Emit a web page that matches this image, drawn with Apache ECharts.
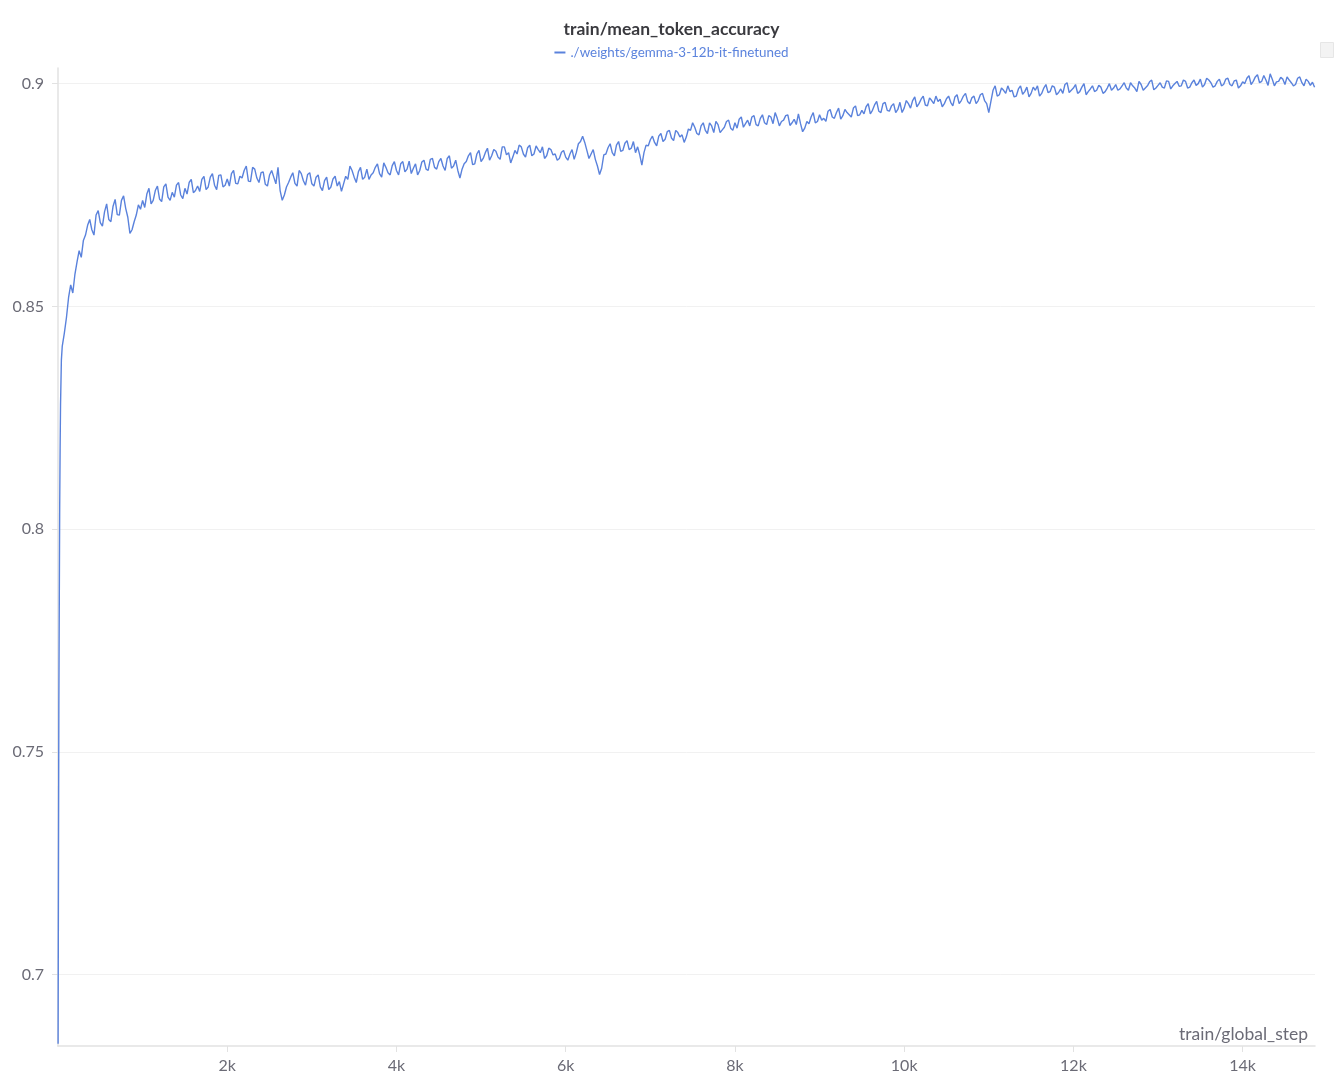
<!DOCTYPE html>
<html>
<head>
<meta charset="utf-8">
<script src="https://cdn.jsdelivr.net/npm/echarts@6/dist/echarts.min.js"></script>
<style>
html,body{margin:0;padding:0;background:#fff;}
#chart{width:1343px;height:1085px;}
</style>
</head>
<body>
<div id="chart"></div>
<script>
const chartTitle = 'train/mean_token_accuracy';
const seriesName = './weights/gemma-3-12b-it-finetuned';
const xAxisName = 'train/global_step';
const yTicks = [0.7, 0.75, 0.8, 0.85, 0.9];
const xTicks = [2000, 4000, 6000, 8000, 10000, 12000, 14000];

const earlySteps = [1, 10, 20, 30, 40];
const earlyAcc = [0.6845, 0.760, 0.805, 0.828, 0.838];

// readings at steps 50, 100, ..., 14850
const acc = [
0.8410,0.8475,0.8548,0.8572,0.8625,0.8648,0.8682,0.8672,0.8705,0.8688,
0.8712,0.8695,0.8724,0.8706,0.8738,0.8720,0.8664,0.8690,0.8728,0.8738,
0.8752,0.8730,0.8760,0.8741,0.8768,0.8745,0.8756,0.8772,0.8750,0.8765,
0.8778,0.8755,0.8770,0.8785,0.8762,0.8790,0.8772,0.8794,0.8768,0.8786,
0.8798,0.8776,0.8792,0.8805,0.8781,0.8812,0.8788,0.8800,0.8774,0.8795,
0.8790,0.8812,0.8738,0.8768,0.8790,0.8776,0.8805,0.8782,0.8796,0.8775,
0.8790,0.8768,0.8782,0.8762,0.8786,0.8770,0.8758,0.8792,0.8815,0.8790,
0.8802,0.8785,0.8808,0.8795,0.8812,0.8798,0.8822,0.8800,0.8816,0.8805,
0.8820,0.8802,0.8826,0.8810,0.8795,0.8824,0.8808,0.8830,0.8812,0.8825,
0.8815,0.8832,0.8810,0.8828,0.8788,0.8820,0.8838,0.8818,0.8842,0.8825,
0.8845,0.8828,0.8852,0.8835,0.8858,0.8840,0.8822,0.8850,0.8862,0.8842,
0.8856,0.8838,0.8860,0.8845,0.8832,0.8855,0.8840,0.8828,0.8846,0.8835,
0.8842,0.8830,0.8865,0.8882,0.8850,0.8842,0.8830,0.8796,0.8840,0.8856,
0.8845,0.8862,0.8848,0.8866,0.8852,0.8870,0.8858,0.8817,0.8862,0.8874,
0.8868,0.8882,0.8870,0.8892,0.8878,0.8895,0.8880,0.8868,0.8898,0.8912,
0.8888,0.8905,0.8895,0.8912,0.8890,0.8908,0.8896,0.8915,0.8900,0.8912,
0.8920,0.8902,0.8918,0.8925,0.8908,0.8922,0.8912,0.8928,0.8910,0.8922,
0.8915,0.8928,0.8906,0.8920,0.8932,0.8892,0.8915,0.8925,0.8912,0.8930,
0.8922,0.8938,0.8925,0.8935,0.8920,0.8942,0.8930,0.8945,0.8928,0.8940,
0.8948,0.8932,0.8952,0.8938,0.8955,0.8940,0.8950,0.8935,0.8958,0.8945,
0.8955,0.8962,0.8948,0.8965,0.8952,0.8968,0.8955,0.8960,0.8948,0.8966,
0.8958,0.8970,0.8955,0.8972,0.8960,0.8968,0.8955,0.8975,0.8962,0.8935,
0.8985,0.8972,0.8990,0.8978,0.8982,0.8970,0.8988,0.8976,0.8992,0.8978,
0.8985,0.8972,0.8990,0.8980,0.8995,0.8975,0.8988,0.8998,0.8980,0.8990,
0.8978,0.8992,0.8975,0.8988,0.8982,0.8996,0.8978,0.8990,0.8985,0.8998,
0.8988,0.9002,0.8985,0.8995,0.8982,0.8998,0.8990,0.9004,0.8986,0.8996,
0.8992,0.9006,0.8988,0.9000,0.8994,0.9008,0.8990,0.9002,0.8996,0.9010,
0.8998,0.9008,0.8992,0.9005,0.8995,0.9010,0.8998,0.9006,0.8990,0.9004,
0.9012,0.8998,0.9015,0.9002,0.9018,0.8996,0.9010,0.9004,0.9014,0.8998,
0.9008,0.8995,0.9012,0.9002,0.9010,0.8996,0.8992
];

// readings at steps 25, 75, ..., 14825
const accMid = [
0.8180,0.8440,0.8520,0.8530,0.8600,0.8610,0.8660,0.8695,0.8660,0.8715,
0.8680,0.8730,0.8690,0.8740,0.8705,0.8748,0.8700,0.8672,0.8705,0.8718,
0.8722,0.8765,0.8738,0.8770,0.8735,0.8775,0.8738,0.8745,0.8778,0.8742,
0.8752,0.8785,0.8760,0.8758,0.8792,0.8768,0.8798,0.8762,0.8795,0.8772,
0.8770,0.8805,0.8775,0.8788,0.8815,0.8780,0.8808,0.8778,0.8802,0.8770,
0.8805,0.8775,0.8760,0.8750,0.8778,0.8800,0.8770,0.8798,0.8772,0.8800,
0.8770,0.8795,0.8760,0.8790,0.8768,0.8792,0.8780,0.8775,0.8785,0.8805,
0.8778,0.8812,0.8790,0.8785,0.8800,0.8820,0.8790,0.8812,0.8795,0.8825,
0.8795,0.8825,0.8808,0.8798,0.8820,0.8805,0.8828,0.8805,0.8832,0.8808,
0.8832,0.8805,0.8838,0.8815,0.8805,0.8808,0.8825,0.8845,0.8820,0.8850,
0.8832,0.8855,0.8838,0.8848,0.8830,0.8858,0.8845,0.8835,0.8842,0.8858,
0.8835,0.8862,0.8842,0.8852,0.8858,0.8838,0.8852,0.8842,0.8832,0.8850,
0.8828,0.8852,0.8845,0.8870,0.8868,0.8832,0.8852,0.8815,0.8810,0.8842,
0.8865,0.8838,0.8870,0.8850,0.8872,0.8855,0.8845,0.8840,0.8845,0.8860,
0.8882,0.8860,0.8888,0.8875,0.8895,0.8872,0.8890,0.8885,0.8880,0.8895,
0.8902,0.8885,0.8912,0.8888,0.8905,0.8915,0.8890,0.8902,0.8918,0.8895,
0.8900,0.8925,0.8910,0.8905,0.8928,0.8905,0.8930,0.8908,0.8925,0.8935,
0.8905,0.8918,0.8930,0.8912,0.8908,0.8910,0.8900,0.8910,0.8935,0.8915,
0.8918,0.8915,0.8942,0.8922,0.8945,0.8928,0.8935,0.8925,0.8950,0.8930,
0.8932,0.8955,0.8940,0.8960,0.8935,0.8958,0.8938,0.8955,0.8942,0.8935,
0.8962,0.8945,0.8970,0.8955,0.8972,0.8950,0.8962,0.8972,0.8965,0.8955,
0.8972,0.8950,0.8975,0.8962,0.8978,0.8955,0.8972,0.8962,0.8978,0.8955,
0.8960,0.8995,0.8975,0.8985,0.8995,0.8985,0.8972,0.8995,0.8982,0.8970,
0.8992,0.8995,0.8978,0.8998,0.8982,0.8992,0.8980,0.8978,0.9002,0.8985,
0.8998,0.8982,0.9000,0.8982,0.8995,0.8985,0.8992,0.8982,0.9000,0.8990,
0.8985,0.8995,0.8990,0.9002,0.8990,0.9005,0.8985,0.8995,0.9008,0.8990,
0.9002,0.8990,0.9005,0.8995,0.9005,0.8995,0.9005,0.8992,0.9008,0.9000,
0.8992,0.9012,0.9002,0.8995,0.9010,0.8998,0.9012,0.8995,0.9008,0.8995,
0.9000,0.9018,0.9005,0.9020,0.9005,0.9008,0.9022,0.8995,0.9005,0.9010,
0.9015,0.9002,0.8998,0.9015,0.8995,0.9005,0.9003
];
const stepInterval = 50;

const data = [];
for (let i = 0; i < earlySteps.length; i++) data.push([earlySteps[i], earlyAcc[i]]);
for (let i = 0; i < acc.length; i++) data.push([(i + 1) * stepInterval, acc[i]]);
for (let i = 0; i < accMid.length; i++) data.push([i * stepInterval + stepInterval / 2, accMid[i]]);
data.sort((a, b) => a[0] - b[0]);

const FONT = 'Lato, "Noto Sans", sans-serif';
const chart = echarts.init(document.getElementById('chart'), null, {renderer: 'canvas'});
chart.setOption({
  animation: false,
  backgroundColor: '#ffffff',
  title: {
    text: chartTitle,
    left: 'center',
    top: 15,
    textStyle: {fontFamily: FONT, fontSize: 17.5, fontWeight: 'bold', color: '#3a3a3f'}
  },
  legend: {
    top: 41,
    left: 'center',
    icon: 'rect',
    itemWidth: 11,
    itemHeight: 2,
    itemGap: 7,
    textStyle: {fontFamily: FONT, fontSize: 13.4, color: '#5b83dd'},
    data: [seriesName]
  },
  grid: {left: 58, right: 28, top: 68, bottom: 39, containLabel: false},
  xAxis: {
    type: 'value',
    min: 0,
    max: 14855,
    name: xAxisName,
    nameLocation: 'end',
    nameGap: 0,
    nameTextStyle: {fontFamily: FONT, fontSize: 17.5, color: '#6b6b76', align: 'right', verticalAlign: 'bottom', padding: [0, 7, 3, 0]},
    axisLine: {show: true, lineStyle: {color: '#e2e2e2', width: 1.5}},
    axisTick: {show: true, length: 6, customValues: xTicks, lineStyle: {color: '#e2e2e2'}},
    axisLabel: {fontFamily: FONT, fontSize: 16, color: '#6b6b76', margin: 12, customValues: xTicks,
      formatter: v => (v / 1000) + 'k'},
    splitLine: {show: false}
  },
  yAxis: {
    type: 'value',
    min: 0.684,
    max: 0.9035,
    axisLine: {show: true, lineStyle: {color: '#e2e2e2', width: 1.5}},
    axisTick: {show: true, length: 6, customValues: yTicks, lineStyle: {color: '#e2e2e2'}},
    axisLabel: {fontFamily: FONT, fontSize: 16, color: '#6b6b76', margin: 14, customValues: yTicks,
      formatter: v => String(+v.toFixed(2))},
    splitLine: {show: true, lineStyle: {color: '#f1f1f1', width: 1}}
  },
  graphic: [
    {type: 'rect', right: 9, top: 42, shape: {width: 13, height: 15}, style: {fill: '#f3f3f3', stroke: '#e6e6e6'}}
  ],
  series: [{
    name: seriesName,
    type: 'line',
    data: data,
    showSymbol: false,
    symbol: 'none',
    lineStyle: {color: '#5a82dc', width: 1.4},
    itemStyle: {color: '#5a82dc'}
  }]
});
</script>
</body>
</html>
